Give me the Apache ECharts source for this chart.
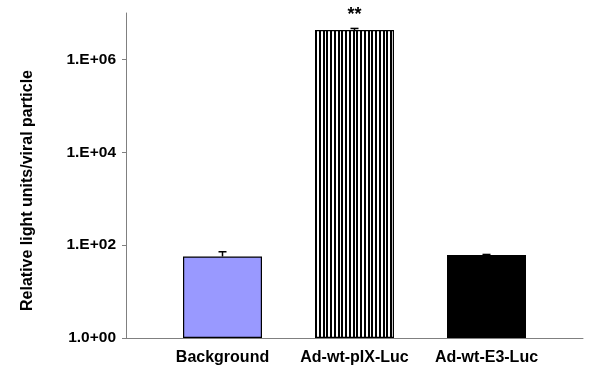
<!DOCTYPE html>
<html>
<head>
<meta charset="utf-8">
<script src="https://cdn.jsdelivr.net/npm/echarts@6/dist/echarts.min.js"></script>
<style>
    html, body { margin: 0; padding: 0; background: #fff; }
    #chart { width: 600px; height: 376px; }
</style>
</head>
<body>
<div id="chart"></div>
<script>
    // 数据
    var categories = ["Background", "Ad-wt-pIX-Luc", "Ad-wt-E3-Luc"];
    var values = [57, 4300000, 61];
    var errTops = [72, 4650000, 63];
    var marks = ["", "**", ""];

    // 竖条纹填充（周期约3.75px）
    var stripe = document.createElement("canvas");
    stripe.width = 15;
    stripe.height = 4;
    var sctx = stripe.getContext("2d");
    sctx.fillStyle = "#fff";
    sctx.fillRect(0, 0, 15, 4);
    sctx.fillStyle = "#000";
    for (var k = 0; k < 4; k++) {
        sctx.fillRect(Math.round(k * 3.75), 0, 2, 4);
    }

    var fills = ["#9999FF", { image: stripe, repeat: "repeat" }, "#000000"];

    var font = "'Liberation Sans', Arial, sans-serif";

    var myChart = echarts.init(document.getElementById("chart"));
    myChart.setOption({
        animation: false,
        grid: [
            // 外框坐标轴
            { left: 126, right: 17, top: 13, bottom: 38 },
            // 柱子
            { left: 156.5, width: 396, top: 13, bottom: 38 }
        ],
        xAxis: [{
            type: "category",
            gridIndex: 0,
            data: [""],
            axisLine: { lineStyle: { color: "#808080", width: 1 } },
            axisTick: { show: false },
            axisLabel: { show: false }
        }, {
            type: "category",
            gridIndex: 1,
            data: categories,
            axisLine: { show: false },
            axisTick: { show: false },
            axisLabel: {
                interval: 0,
                margin: 12,
                color: "#000",
                fontFamily: font,
                fontWeight: "bold",
                fontSize: 16
            }
        }],
        yAxis: [{
            type: "log",
            gridIndex: 0,
            logBase: 10,
            min: 1,
            max: 10000000,
            interval: 2,
            name: "Relative light units/viral particle",
            nameLocation: "middle",
            nameRotate: 90,
            nameGap: 90,
            nameTextStyle: {
                color: "#000",
                fontFamily: font,
                fontWeight: "bold",
                fontSize: 16,
                padding: [0, 30, 0, 0]
            },
            axisLine: { show: true, lineStyle: { color: "#808080", width: 1 } },
            axisTick: { show: true, length: 4, lineStyle: { color: "#808080" } },
            splitLine: { show: false },
            axisLabel: {
                margin: 10,
                color: "#000",
                fontFamily: font,
                fontWeight: "bold",
                fontSize: 15.5,
                showMaxLabel: false,
                formatter: function (v) {
                    var e = Math.round(Math.log10(v));
                    if (e > 6) {
                        return "";
                    }
                    if (e === 0) {
                        return "1.0+00";
                    }
                    return "1.E+" + (e < 10 ? "0" + e : e);
                }
            }
        }, {
            type: "log",
            gridIndex: 1,
            logBase: 10,
            min: 1,
            max: 10000000,
            show: false
        }],
        series: [{
            type: "bar",
            xAxisIndex: 1,
            yAxisIndex: 1,
            barWidth: 79,
            data: values.map(function (v, i) {
                return {
                    value: v,
                    itemStyle: { color: fills[i], borderColor: "#000", borderWidth: 1.2 }
                };
            }),
            label: {
                show: true,
                position: "top",
                distance: 6,
                color: "#000",
                fontFamily: font,
                fontWeight: "bold",
                fontSize: 18,
                formatter: function (p) {
                    return marks[p.dataIndex];
                }
            },
            z: 2
        }, {
            // 误差线（只画上半部分）
            type: "custom",
            xAxisIndex: 1,
            yAxisIndex: 1,
            data: values.map(function (v, i) {
                return [i, v, errTops[i]];
            }),
            renderItem: function (params, api) {
                var base = api.coord([api.value(0), api.value(1)]);
                var top = api.coord([api.value(0), api.value(2)]);
                var half = 4;
                var style = { stroke: "#000", lineWidth: 1.5 };
                return {
                    type: "group",
                    children: [{
                        type: "line",
                        shape: { x1: base[0], y1: base[1], x2: top[0], y2: top[1] },
                        style: style
                    }, {
                        type: "line",
                        shape: { x1: top[0] - half, y1: top[1], x2: top[0] + half, y2: top[1] },
                        style: style
                    }]
                };
            },
            z: 3
        }]
    });
</script>
</body>
</html>
